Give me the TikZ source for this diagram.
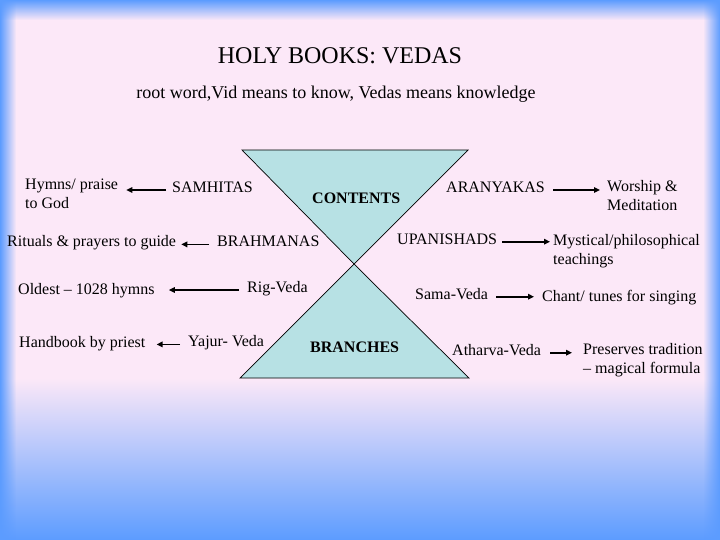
\documentclass[tikz,border=0pt]{standalone}
\usepackage{fontspec}
\setmainfont{Liberation Serif}
\usetikzlibrary{arrows.meta,fadings,calc}
\definecolor{bgblue}{RGB}{92,156,255}
\definecolor{bgpink}{RGB}{252,232,248}
\definecolor{bgmid}{RGB}{138,196,255}
\definecolor{hgfill}{RGB}{183,225,228}
\tikzfading[name=fadeE, left color=transparent!0, right color=transparent!100]
\tikzfading[name=fadeW, left color=transparent!100, right color=transparent!0]
\tikzfading[name=fadeS, top color=transparent!0, bottom color=transparent!100]
\begin{document}
\begin{tikzpicture}[x=1pt,y=-1pt,
  txt/.style={font=\fontsize{16}{19.5}\selectfont, inner sep=0pt, anchor=base west, align=left},
  btxt/.style={txt, font=\fontsize{16}{19.5}\selectfont\bfseries},
  arr/.style={line width=1.6pt, -{Triangle[length=6pt,width=5.5pt]}},
  hg/.style={draw=black, line width=0.7pt, fill=hgfill}]
\useasboundingbox (0,0) rectangle (720,540);
% background
\fill[bgpink] (0,0) rectangle (720,540);
\shade[top color=bgpink, middle color=bgmid, bottom color=bgblue] (0,378) rectangle (720,540);
\fill[bgblue, path fading=fadeE] (0,0) rectangle (16,540);
\fill[bgblue, path fading=fadeW] (703,0) rectangle (720,540);
\fill[bgblue, path fading=fadeS] (0,0) rectangle (720,20);
% hourglass
\draw[hg] (242,150) -- (468,150) -- (354,264) -- cycle;
\draw[hg] (240,378) -- (469,378) -- (354,264) -- cycle;
% titles
\node[inner sep=0pt, anchor=base, font=\fontsize{24}{28}\selectfont] (title) at (340,63.5) {HOLY BOOKS: VEDAS};
\node[inner sep=0pt, anchor=base, font=\fontsize{18}{22}\selectfont] (sub) at (336,99) {root word,Vid means to know, Vedas means knowledge};
% centre labels
\node[btxt] (contents) at (312,203.3) {CONTENTS};
\node[btxt] (branches) at (310,352.7) {BRANCHES};
% left side (multi-line nodes: base is the last line)
\node[txt] (hymns) at (25,208.5) {Hymns/ praise\\to God};
\node[txt] (samhitas) at (172,192.3) {SAMHITAS};
\node[txt] (rituals) at (7,246) {Rituals \& prayers to guide};
\node[txt] (brahmanas) at (217,246.7) {BRAHMANAS};
\node[txt] (oldest) at (18,294.3) {Oldest – 1028 hymns};
\node[txt] (rig) at (247,292.3) {Rig-Veda};
\node[txt] (handbook) at (19,347.3) {Handbook by priest};
\node[txt] (yajur) at (188,346.7) {Yajur- Veda};
% right side
\node[txt] (aranyakas) at (446,192.3) {ARANYAKAS};
\node[txt] (worship) at (607,210.7) {Worship \&\\Meditation};
\node[txt] (upanishads) at (397,244) {UPANISHADS};
\node[txt] (mystical) at (553,264.5) {Mystical/philosophical\\teachings};
\node[txt] (sama) at (415,299) {Sama-Veda};
\node[txt] (chant) at (542,301) {Chant/ tunes for singing};
\node[txt] (atharva) at (452,355) {Atharva-Veda};
\node[txt] (preserves) at (583,373.5) {Preserves tradition\\– magical formula};
% arrows
\draw[arr, shorten <=6pt, shorten >=8pt] (samhitas.mid west) -- (samhitas.mid west -| hymns.east);
\draw[arr, shorten <=8pt, shorten >=5pt] (brahmanas.mid west) -- (brahmanas.mid west -| rituals.east);
\draw[arr, shorten <=8pt, shorten >=14pt] (rig.mid west) -- (rig.mid west -| oldest.east);
\draw[arr, shorten <=8pt, shorten >=11pt] (yajur.mid west) -- (yajur.mid west -| handbook.east);
\draw[arr, shorten <=8pt, shorten >=7pt] (aranyakas.mid east) -- (aranyakas.mid east -| worship.west);
\draw[arr, shorten <=5pt, shorten >=3pt] (upanishads.mid east) -- (upanishads.mid east -| mystical.west);
\draw[arr, shorten <=8pt, shorten >=8pt] (sama.mid east) -- (sama.mid east -| chant.west);
\draw[arr, shorten <=9pt, shorten >=11pt] (atharva.mid east) -- (atharva.mid east -| preserves.west);
\end{tikzpicture}
\end{document}
